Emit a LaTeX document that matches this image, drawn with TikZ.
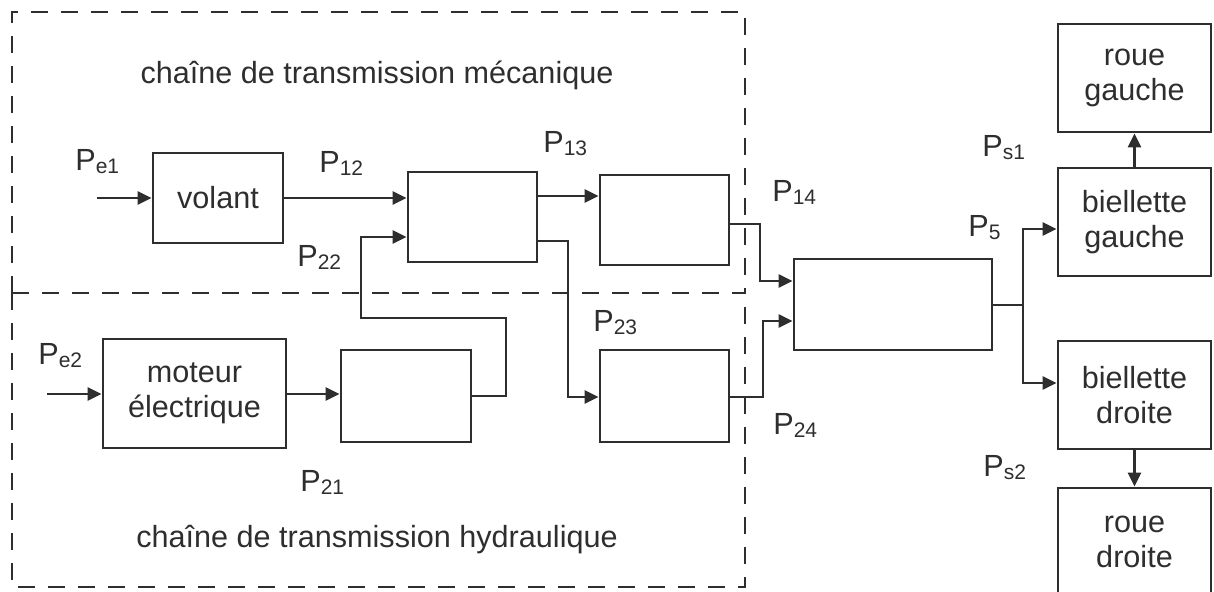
\documentclass[tikz,border=0pt]{standalone}
\usepackage{fontspec}
\setmainfont{Liberation Sans}
\usetikzlibrary{arrows.meta}
\definecolor{ink}{HTML}{2E2E2E}
\newcommand\Pl[1]{P\raisebox{-1.5pt}{\fontsize{10.5pt}{12pt}\selectfont #1}}
\begin{document}
\begin{tikzpicture}[x=0.5pt,y=-0.5pt,
  every node/.style={text=ink,font=\fontsize{15.3pt}{17.5pt}\selectfont},
  blk/.style={draw=ink,line width=1.4pt,inner sep=0pt,align=center},
  lbl/.style={anchor=base west,inner sep=0pt},
  ttl/.style={anchor=base,inner sep=0pt},
  flow/.style={draw=ink,line width=1.4pt,-{Triangle[length=7pt,width=6.5pt]}},
  wire/.style={draw=ink,line width=1.4pt},
  frame/.style={draw=ink,line width=1.3pt,dash pattern=on 8.5pt off 6.5pt}]
\useasboundingbox (0,0) rectangle (1214,592);
\clip (0,0) rectangle (1214,592);
% dashed frames
\draw[frame] (12,293) -- (12,12) -- (745,12) -- (745,293);
\draw[frame] (12,293) -- (745,293);
\draw[frame] (12,293) -- (12,587) -- (745,587) -- (745,293);
\node[ttl] (tmeca) at (377,84) {chaîne de transmission mécanique};
\node[ttl] (thydr) at (377,547) {chaîne de transmission hydraulique};
% blocks
\node[blk,minimum width=65pt,minimum height=45pt] (volant) at (218,198) {volant};
\node[blk,minimum width=64.5pt,minimum height=45pt] (A) at (472.5,217) {};
\node[blk,minimum width=64.5pt,minimum height=45pt] (B) at (664.5,220) {};
\node[blk,minimum width=91.5pt,minimum height=54.5pt] (moteur) at (194.5,393.5) {moteur\\électrique};
\node[blk,minimum width=65pt,minimum height=46pt] (E) at (406,396) {};
\node[blk,minimum width=64.5pt,minimum height=46pt] (C) at (664.5,396) {};
\node[blk,minimum width=99pt,minimum height=45.5pt] (D) at (893,304.5) {};
\node[blk,minimum width=76.5pt,minimum height=54pt] (RG) at (1134.5,78) {roue\\gauche};
\node[blk,minimum width=76.5pt,minimum height=54pt] (BG) at (1134.5,222) {biellette\\gauche};
\node[blk,minimum width=76.5pt,minimum height=54pt] (BD) at (1134.5,395) {biellette\\droite};
\node[blk,minimum width=76.5pt,minimum height=54pt] (RD) at (1134.5,542) {roue\\droite};
% labels
\node[lbl] (Le1) at (75,171) {\Pl{e1}};
\node[lbl] (L12) at (319,173) {\Pl{12}};
\node[lbl] (L22) at (297,267) {\Pl{22}};
\node[lbl] (L13) at (543,153) {\Pl{13}};
\node[lbl] (L14) at (772,202) {\Pl{14}};
\node[lbl] (L23) at (593,332) {\Pl{23}};
\node[lbl] (L24) at (773,435) {\Pl{24}};
\node[lbl] (L5) at (968,237) {\Pl{5}};
\node[lbl] (Ls1) at (982,157) {\Pl{s1}};
\node[lbl] (Ls2) at (983,477) {\Pl{s2}};
\node[lbl] (Le2) at (38,365) {\Pl{e2}};
\node[lbl] (L21) at (300,492) {\Pl{21}};
% connectors
\coordinate (in1) at (97,198);
\coordinate (in2) at (47,394);
\draw[flow] (in1) -- (volant);
\draw[flow] (volant.east) -- (A.west |- volant.east);
\draw[flow] (in2) -- (in2 -| moteur.west);
\draw[flow] (moteur.east |- 0,394) -- (E.west |- 0,394);
\draw[flow] (E.east |- 0,396) -- (506,396) -- (506,318) -- (361,318) -- (361,237) -- (A.west |- 0,237);
\draw[flow] (A.east |- 0,196) -- (B.west |- 0,196);
\draw[flow] (A.east |- 0,241) -- (568,241) -- (568,397) -- (C.west |- 0,397);
\draw[flow] (B.east |- 0,224) -- (760,224) -- (760,281) -- (D.west |- 0,281);
\draw[flow] (C.east |- 0,397) -- (763,397) -- (763,321) -- (D.west |- 0,321);
\draw[wire] (D.east |- 0,305) -- (1023,305);
\draw[flow] (1023,305) -- (1023,229) -- (BG.west |- 0,229);
\draw[flow] (1023,305) -- (1023,383) -- (BD.west |- 0,383);
\draw[flow] (BG.north |- 0,168) -- (RG.south);
\draw[flow] (BD.south) -- (RD.north);
\end{tikzpicture}
\end{document}
